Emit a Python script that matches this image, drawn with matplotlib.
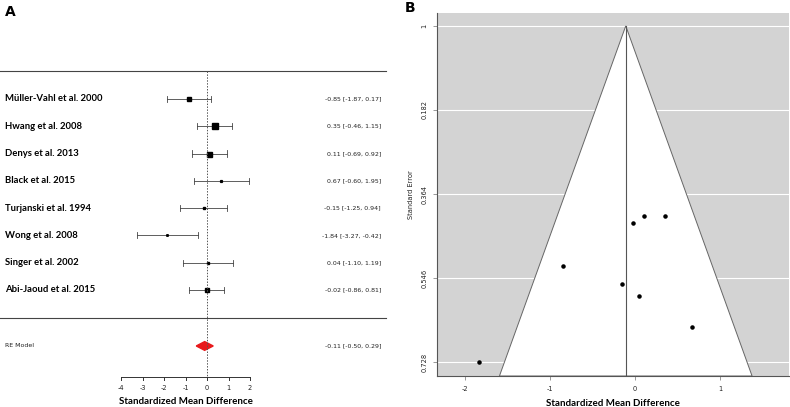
import numpy as np
import matplotlib
matplotlib.use("Agg")
import matplotlib.pyplot as plt
from matplotlib.patches import Polygon

# study data
studies = ["Müller-Vahl et al. 2000", "Hwang et al. 2008", "Denys et al. 2013",
           "Black et al. 2015", "Turjanski et al. 1994", "Wong et al. 2008",
           "Singer et al. 2002", "Abi-Jaoud et al. 2015"]
smd = [-0.85, 0.35, 0.11, 0.67, -0.15, -1.84, 0.04, -0.02]
ci_lo = [-1.87, -0.46, -0.69, -0.60, -1.25, -3.27, -1.10, -0.86]
ci_hi = [0.17, 1.15, 0.92, 1.95, 0.94, -0.42, 1.19, 0.81]
weights = [12.0, 19.0, 18.0, 6.5, 10.0, 5.5, 8.0, 17.0]
se = [0.520, 0.411, 0.411, 0.651, 0.559, 0.727, 0.584, 0.426]

pooled = -0.11
pooled_lo = -0.50
pooled_hi = 0.29

x_ticks_a = [-4, -3, -2, -1, 0, 1, 2]
y_ticks_b = [0, 0.182, 0.364, 0.546, 0.728]
y_ticklabels_b = ["1", "0.182", "0.364", "0.546", "0.728"]
x_ticks_b = [-2, -1, 0, 1]

W, H = 790, 407
fig = plt.figure(figsize=(W / 100, H / 100), dpi=100)

bold_font = ["Lato", "DejaVu Sans"]

# ---------------- panel A : forest plot ----------------
axA = fig.add_axes([0, 0, 390 / W, 1])
px_per_unit = 21.5
x0_px = 207
axA.set_xlim(-x0_px / px_per_unit, (390 - x0_px) / px_per_unit)
row_px = 27.3
axA.set_ylim(1 - (407 - 290) / row_px, 1 + 290 / row_px)
axA.axis("off")

n = len(studies)
rows = np.arange(n, 0, -1)
x_left = -x0_px / px_per_unit
x_text = (381 - x0_px) / px_per_unit
x_line = (386 - x0_px) / px_per_unit

for r, name, m, lo, hi, w in zip(rows, studies, smd, ci_lo, ci_hi, weights):
    axA.plot([lo, hi], [r, r], color="#444444", lw=0.6)
    axA.plot([lo, lo], [r - 0.11, r + 0.11], color="#444444", lw=0.6)
    axA.plot([hi, hi], [r - 0.11, r + 0.11], color="#444444", lw=0.6)
    axA.plot(m, r, marker="s", color="black", ms=w * 0.2, lw=0)
    axA.text(x_left + 5 / px_per_unit, r, name, ha="left", va="center",
             fontsize=6.8, fontweight="bold", family=bold_font)
    axA.text(x_text, r, f"{m:.2f} [{lo:.2f}, {hi:.2f}]", ha="right",
             va="center", fontsize=4.5, color="#222222")

# separator lines
axA.plot([x_left, x_line], [n + 1.03, n + 1.03], color="#444444", lw=0.8)
axA.plot([x_left, x_line], [-0.03, -0.03], color="#444444", lw=0.8)

# pooled estimate
re_row = -1.05
diamond = Polygon([[pooled_lo, re_row], [pooled, re_row + 0.16],
                   [pooled_hi, re_row], [pooled, re_row - 0.16]],
                  closed=True, color="#e8191c")
axA.add_patch(diamond)
axA.text(x_left + 5 / px_per_unit, re_row, "RE Model", ha="left", va="center",
         fontsize=4.5, color="#222222")
axA.text(x_text, re_row, f"{pooled:.2f} [{pooled_lo:.2f}, {pooled_hi:.2f}]",
         ha="right", va="center", fontsize=4.5, color="#222222")

# vertical reference line
axA.plot([0, 0], [n + 1.03, -2.2], color="#555555", lw=0.7, ls=(0, (1.5, 1.5)))

# x axis
ax_y = -2.19
axA.plot([x_ticks_a[0], x_ticks_a[-1]], [ax_y, ax_y], color="#333333", lw=0.7)
for t in x_ticks_a:
    axA.plot([t, t], [ax_y, ax_y - 0.12], color="#333333", lw=0.7)
    axA.text(t, ax_y - 0.4, f"{t}", ha="center", va="center", fontsize=4.8,
             color="#222222")
axA.text(np.mean([x_ticks_a[0], x_ticks_a[-1]]), ax_y - 0.88,
         "Standardized Mean Difference", ha="center", va="center",
         fontsize=7.0, fontweight="bold", family=bold_font)

fig.text(5 / W, 1 - 12 / H, "A", fontsize=10, fontweight="bold",
         ha="left", va="center", family="DejaVu Sans")
fig.text(405 / W, 1 - 8 / H, "B", fontsize=10, fontweight="bold",
         ha="left", va="center", family="DejaVu Sans")

# ---------------- panel B : funnel plot ----------------
left_px, right_px, top_px, bot_px = 437, 789, 13, 376
axB = fig.add_axes([left_px / W, 1 - bot_px / H, (right_px - left_px) / W,
                    (bot_px - top_px) / H])
xmin, xmax = -2.33, 1.81
ymin, ymax = -0.028, 0.758
axB.set_xlim(xmin, xmax)
axB.set_ylim(ymax, ymin)
axB.set_facecolor("#d3d3d3")

for yt in y_ticks_b:
    axB.axhline(yt, color="white", lw=0.8, zorder=1)

z = 1.96
funnel = Polygon([[pooled, 0], [pooled - z * ymax, ymax], [pooled + z * ymax, ymax]],
                 closed=True, facecolor="white", edgecolor="#666666", lw=0.7, zorder=2)
axB.add_patch(funnel)
axB.plot([pooled, pooled], [0, ymax], color="#555555", lw=0.8, zorder=3)
axB.scatter(smd, se, s=5, color="black", zorder=4)

axB.set_yticks(y_ticks_b)
axB.set_yticklabels(y_ticklabels_b, rotation=90, va="center", fontsize=4.8,
                    color="#222222")
axB.set_xticks(x_ticks_b)
axB.set_xticklabels([f"{t}" for t in x_ticks_b], fontsize=4.8, color="#222222")
axB.tick_params(length=3, width=0.6, color="#888888", pad=4)
axB.set_ylabel("Standard Error", fontsize=4.8, color="#222222", labelpad=5)
axB.set_xlabel("Standardized Mean Difference", fontsize=7.0, fontweight="bold",
               family=bold_font, labelpad=5)
for s in ["top", "right"]:
    axB.spines[s].set_visible(False)
for s in ["left", "bottom"]:
    axB.spines[s].set_color("#555555")
    axB.spines[s].set_linewidth(0.8)

fig.savefig("out.png", dpi=100)
